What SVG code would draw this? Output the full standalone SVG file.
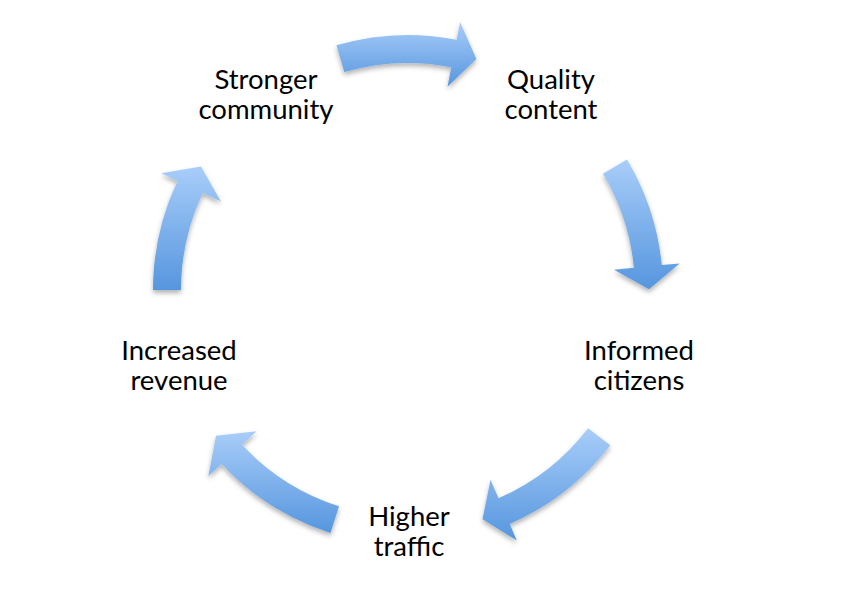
<svg xmlns="http://www.w3.org/2000/svg" width="852" height="599" viewBox="0 0 852 599">
<defs>
<linearGradient id="g" x1="0" y1="0" x2="0" y2="1">
<stop offset="0" stop-color="#a8cdf9"/>
<stop offset="1" stop-color="#5696de"/>
</linearGradient>
<filter id="sh" x="-20%" y="-20%" width="140%" height="140%">
<feDropShadow dx="0" dy="3" stdDeviation="2.5" flood-color="#000" flood-opacity="0.3"/>
</filter>
</defs>
<style>
.arr{fill:url(#g);filter:url(#sh)}
.lbl{font-family:Lato,"Liberation Sans",sans-serif;font-size:27.5px;fill:#000;text-anchor:middle}
</style>
<rect width="852" height="599" fill="#fff"/>
<g id="connectors">
<path class="arr" d="M336.4,45.3 A255,255 0 0 1 456.7,39.7 L460.1,22.0 L476.4,58.9 L447.5,86.8 L451.3,67.2 A227,227 0 0 0 344.3,72.1 Z"/>
<path class="arr" d="M627.0,159.4 A255,255 0 0 1 661.8,265.1 L679.7,263.4 L649.0,289.2 L614.0,269.8 L633.9,267.8 A227,227 0 0 0 603.0,173.8 Z"/>
<path class="arr" d="M610.3,445.2 A255,255 0 0 1 509.7,523.9 L516.8,540.4 L482.5,519.2 L490.5,479.8 L498.5,498.2 A227,227 0 0 0 588.1,428.2 Z"/>
<path class="arr" d="M330.5,532.9 A255,255 0 0 1 221.5,463.9 L208.3,476.2 L216.0,435.7 L256.6,431.2 L242.0,444.8 A227,227 0 0 0 339.0,506.3 Z"/>
<path class="arr" d="M153,290 A255,255 0 0 1 177.5,181.0 L161.2,173.3 L201.0,166.6 L220.9,201.5 L202.8,193.0 A227,227 0 0 0 181,290 Z"/>
</g>
<g id="quality"><text class="lbl" x="551" y="89">Quality</text><text class="lbl" x="551" y="119">content</text></g>
<g id="informed"><text class="lbl" x="639" y="360">Informed</text><text class="lbl" x="639" y="390">citizens</text></g>
<g id="traffic"><text class="lbl" x="409" y="526">Higher</text><text class="lbl" x="409" y="556">traffic</text></g>
<g id="revenue"><text class="lbl" x="179" y="360">Increased</text><text class="lbl" x="179" y="390">revenue</text></g>
<g id="community"><text class="lbl" x="266" y="89">Stronger</text><text class="lbl" x="266" y="119">community</text></g>
</svg>
